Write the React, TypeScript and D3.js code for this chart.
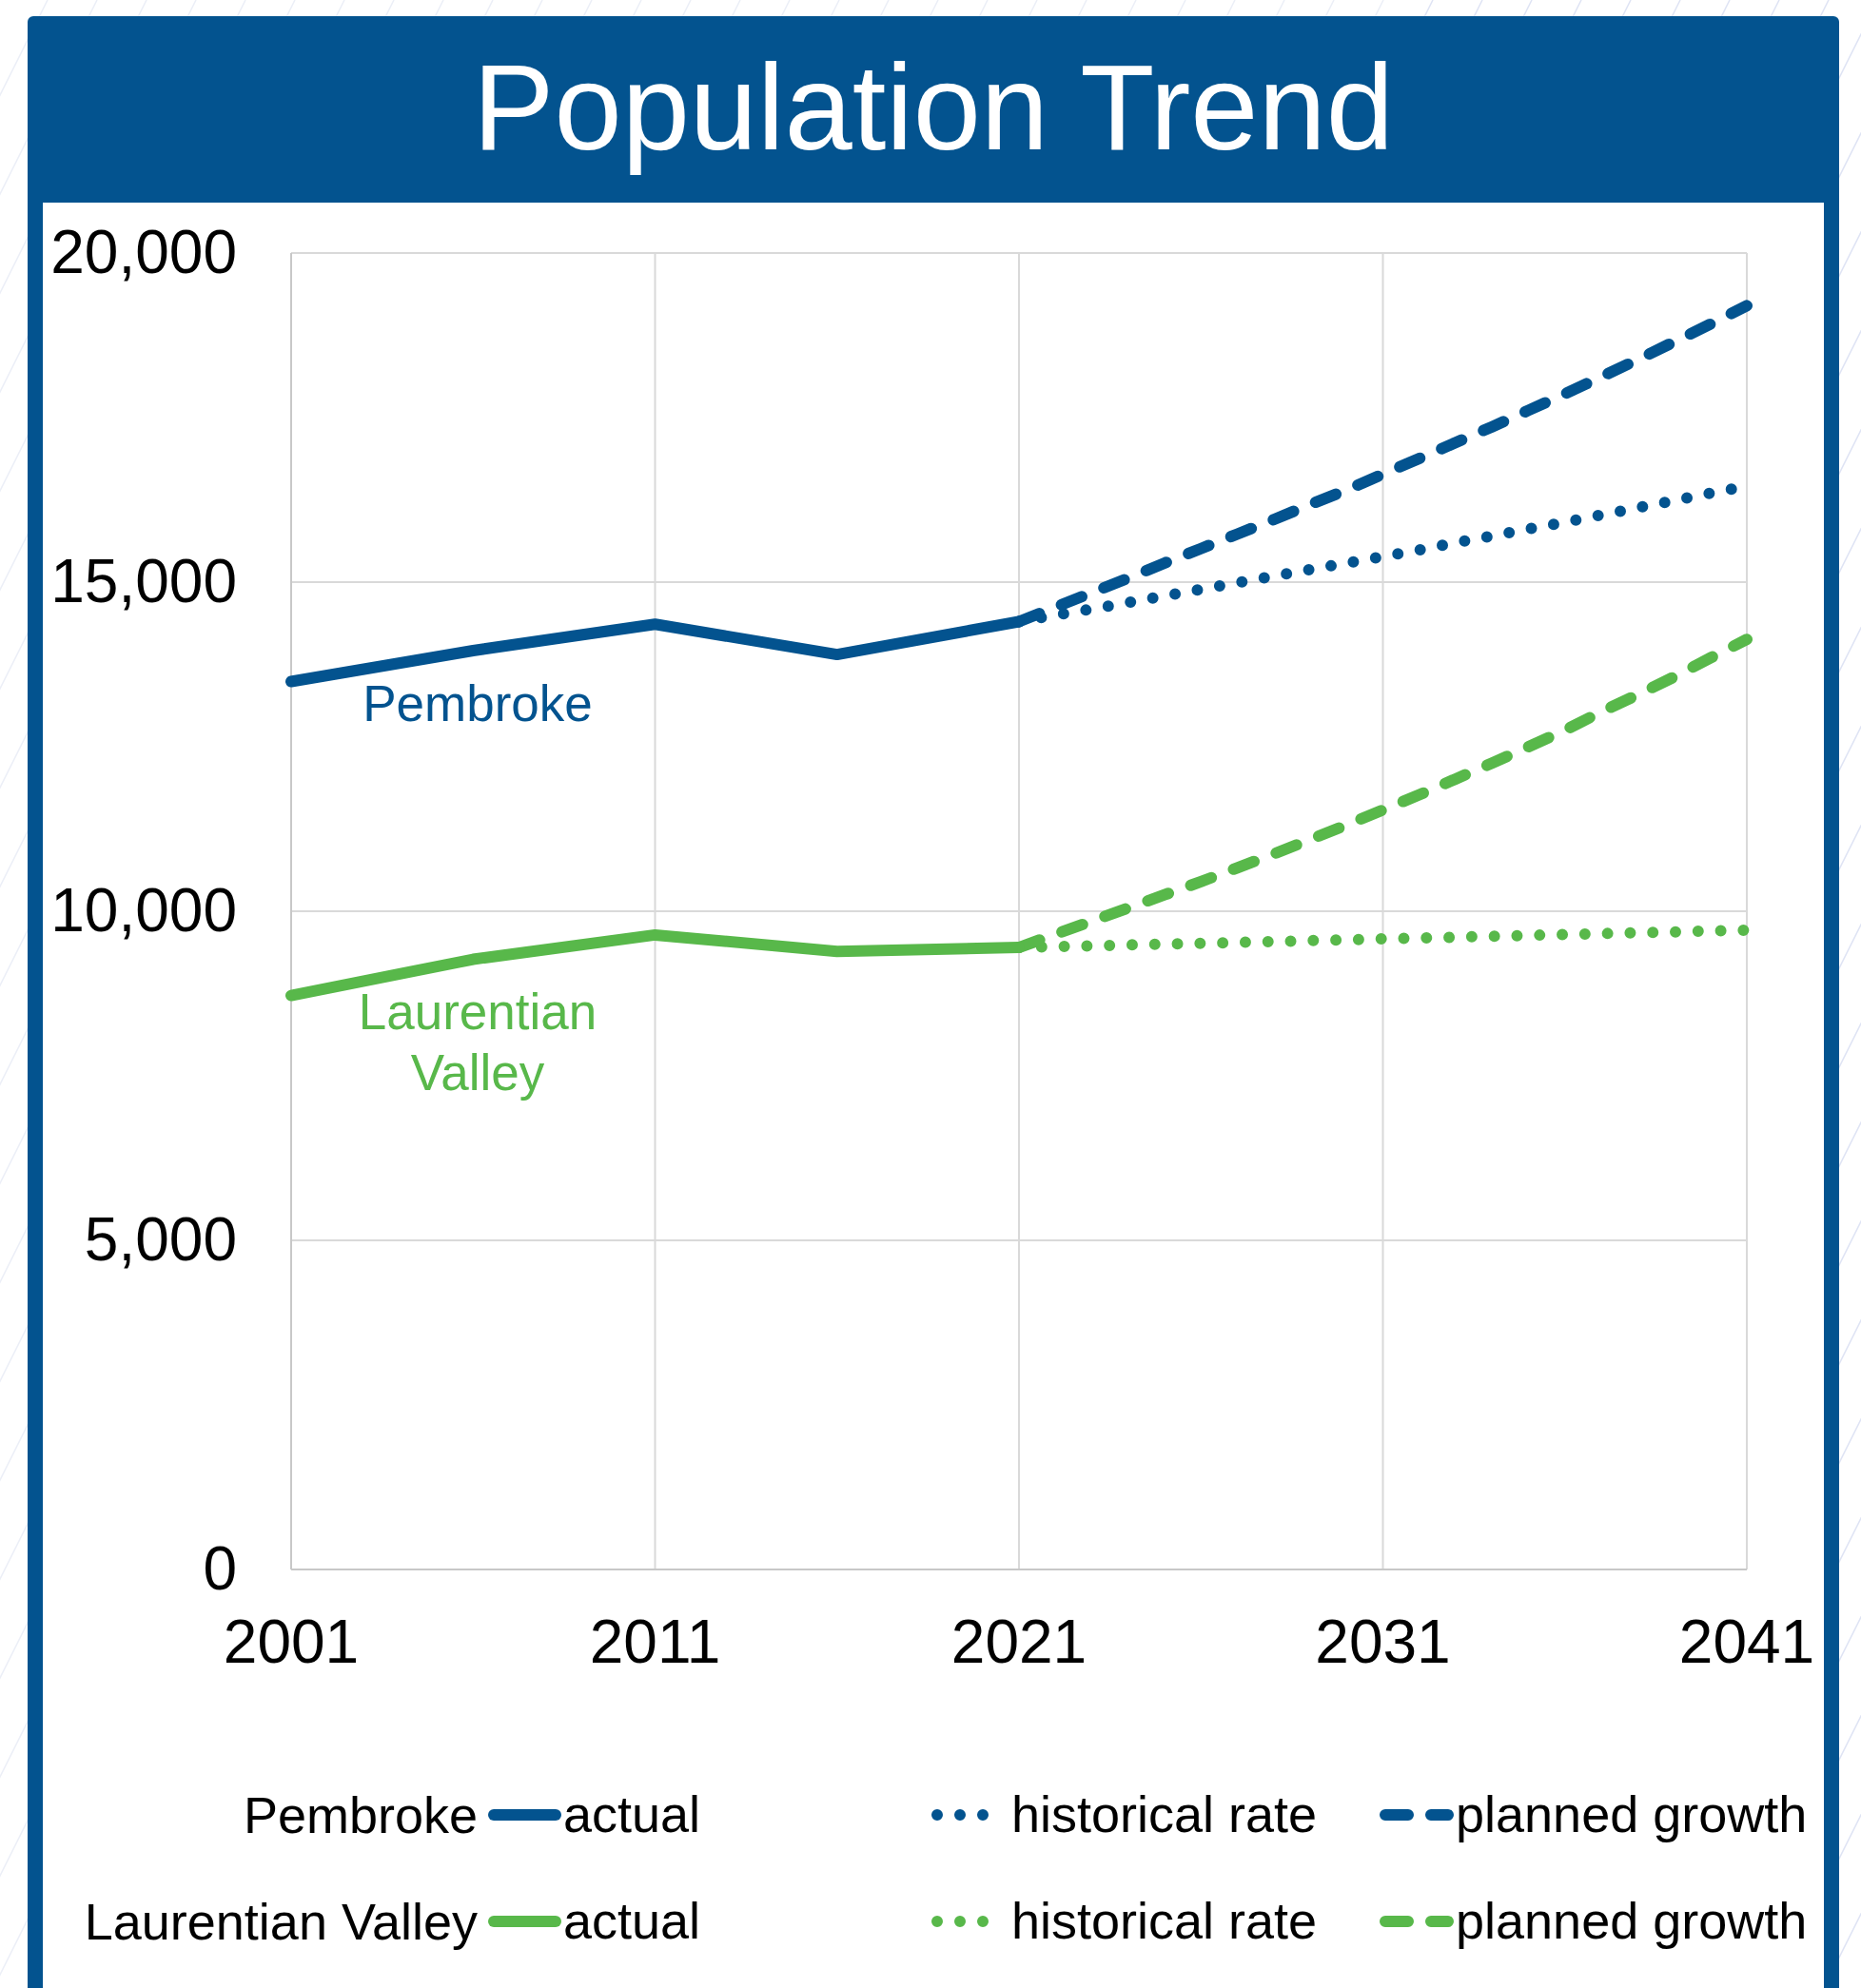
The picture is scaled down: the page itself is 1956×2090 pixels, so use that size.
import React from "react";
import * as d3 from "d3";

// ---- Data ----
const actualYears = [2001, 2006, 2011, 2016, 2021];
const pembrokeActual = [13490, 13960, 14360, 13900, 14400];
const laurentianActual = [8720, 9270, 9640, 9390, 9450];

const projYears = [2021, 2022, 2023, 2024, 2025, 2026, 2027, 2028, 2029, 2030, 2031, 2032, 2033, 2034, 2035, 2036, 2037, 2038, 2039, 2040, 2041];
const pembrokeHistorical = [14400, 14500, 14590, 14690, 14790, 14890, 14990, 15090, 15190, 15290, 15390, 15490, 15600, 15700, 15810, 15910, 16020, 16130, 16240, 16350, 16460];
const pembrokePlanned = [14400, 14620, 14840, 15060, 15290, 15510, 15730, 15950, 16180, 16400, 16640, 16880, 17120, 17360, 17610, 17860, 18120, 18380, 18650, 18920, 19200];
const laurentianHistorical = [9450, 9463, 9475, 9488, 9500, 9513, 9526, 9540, 9553, 9566, 9580, 9593, 9606, 9620, 9633, 9646, 9660, 9673, 9686, 9700, 9713];
const laurentianPlanned = [9450, 9650, 9850, 10050, 10250, 10450, 10660, 10870, 11090, 11310, 11540, 11770, 12010, 12250, 12500, 12750, 13030, 13290, 13560, 13850, 14130];

const xTicks = [2001, 2011, 2021, 2031, 2041];
const yTicks = [0, 5000, 10000, 15000, 20000];

const title = "Population Trend";
const legendRows = ["Pembroke", "Laurentian Valley"];
const legendItems = ["actual", "historical rate", "planned growth"];

// ---- Styles ----
const BLUE = "#03538F";
const GREEN = "#58B84A";
const FONT = "'Liberation Sans', Arial, Helvetica, sans-serif";
const W = 1956;
const H = 2090;
const LW = 12;
const DASH = "23 25";
const DOT = "0 23.8";

export default function App() {
  const x = d3.scaleLinear().domain([2001, 2041]).range([306, 1836]);
  const y = d3.scaleLinear().domain([0, 20000]).range([1650, 266]);
  const fmt = d3.format(",");

  const line = d3
    .line<[number, number]>()
    .x((d) => x(d[0]))
    .y((d) => y(d[1]));

  const zip = (xs: number[], ys: number[]) => xs.map((v, i) => [v, ys[i]] as [number, number]);

  const series = [
    { d: zip(projYears, pembrokeHistorical), color: BLUE, dash: DOT },
    { d: zip(projYears, pembrokePlanned), color: BLUE, dash: DASH },
    { d: zip(actualYears, pembrokeActual), color: BLUE, dash: undefined },
    { d: zip(projYears, laurentianHistorical), color: GREEN, dash: DOT },
    { d: zip(projYears, laurentianPlanned), color: GREEN, dash: DASH },
    { d: zip(actualYears, laurentianActual), color: GREEN, dash: undefined },
  ];

  // decorative background stripes
  const stripes: number[] = [];
  for (let c = 50 - 52 * 2; c < W + H / 2 + 60; c += 52) stripes.push(c);

  const legendY = [1908, 2020];
  const legendColors = [BLUE, GREEN];

  return (
    <div style={{ position: "absolute", left: 0, top: 0, width: W, height: H }}>
      <svg width={W} height={H} viewBox={`0 0 ${W} ${H}`} style={{ display: "block" }}>
        <rect x={0} y={0} width={W} height={H} fill="#ffffff" />
        <g strokeWidth={1.6}>
          {stripes.map((c, i) => (
            <line key={i} x1={c} y1={0} x2={c - H / 2} y2={H} stroke={c > 1500 ? "#dfe4f4" : "#eceff7"} />
          ))}
        </g>

        {/* panel */}
        <rect x={29} y={17} width={1904} height={H + 20} rx={6} fill={BLUE} />
        <rect x={45} y={213} width={1872} height={H} fill="#ffffff" />

        <text
          x={981}
          y={157}
          textAnchor="middle"
          fill="#ffffff"
          fontFamily={FONT}
          fontSize={128}
        >
          {title}
        </text>

        {/* grid */}
        <g>
          {yTicks.map((t) => (
            <line key={"gy" + t} x1={x(2001)} x2={x(2041)} y1={y(t)} y2={y(t)} stroke="#d9d9d9" strokeWidth={2} />
          ))}
          {xTicks.map((t) => (
            <line key={"gx" + t} x1={x(t)} x2={x(t)} y1={y(0)} y2={y(20000)} stroke="#d9d9d9" strokeWidth={2} />
          ))}
          <line x1={x(2001)} x2={x(2001)} y1={y(0)} y2={y(20000)} stroke="#c8c8c8" strokeWidth={2} />
          <line x1={x(2001)} x2={x(2041)} y1={y(0)} y2={y(0)} stroke="#c8c8c8" strokeWidth={2} />
        </g>

        {/* axis labels */}
        <g fontFamily={FONT} fontSize={64} fill="#000000">
          {yTicks.map((t) => (
            <text key={"ly" + t} x={249} y={y(t) + 21} textAnchor="end">
              {fmt(t)}
            </text>
          ))}
          {xTicks.map((t) => (
            <text key={"lx" + t} x={x(t)} y={1748} textAnchor="middle">
              {t}
            </text>
          ))}
        </g>

        {/* series */}
        <g fill="none" strokeLinecap="round" strokeLinejoin="round">
          {series.map((s, i) => (
            <path
              key={i}
              d={line(s.d) || ""}
              stroke={s.color}
              strokeWidth={LW}
              strokeDasharray={s.dash}
            />
          ))}
        </g>

        {/* in-plot labels */}
        <g fontFamily={FONT} fontSize={53} textAnchor="middle">
          <text x={502} y={758} fill={BLUE}>Pembroke</text>
          <text x={502} y={1082} fill={GREEN}>Laurentian</text>
          <text x={502} y={1146} fill={GREEN}>Valley</text>
        </g>

        {/* legend */}
        <g fontFamily={FONT} fontSize={54} fill="#000000">
          {legendRows.map((name, r) => {
            const ly = legendY[r];
            const col = legendColors[r];
            return (
              <g key={name}>
                <text x={502} y={ly + 19} textAnchor="end">{name}</text>
                <line x1={519} x2={584} y1={ly} y2={ly} stroke={col} strokeWidth={LW} strokeLinecap="round" />
                <text x={592} y={ly + 18}>{legendItems[0]}</text>
                <line x1={985} x2={1034} y1={ly} y2={ly} stroke={col} strokeWidth={LW} strokeLinecap="round" strokeDasharray="0 24" />
                <text x={1063} y={ly + 18}>{legendItems[1]}</text>
                <line x1={1456} x2={1522} y1={ly} y2={ly} stroke={col} strokeWidth={LW} strokeLinecap="round" strokeDasharray="24 24" />
                <text x={1530} y={ly + 18}>{legendItems[2]}</text>
              </g>
            );
          })}
        </g>
      </svg>
    </div>
  );
}
